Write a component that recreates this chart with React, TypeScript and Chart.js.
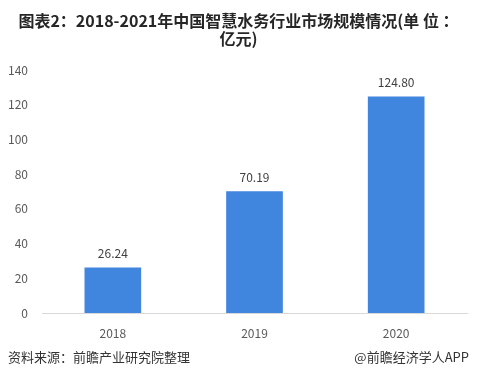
import React, { useEffect, useRef } from "react";
import { Chart, registerables } from "chart.js";

Chart.register(...registerables);

const categories = ["2018", "2019", "2020"];
const values = [26.24, 70.19, 124.8];
const valueLabels = ["26.24", "70.19", "124.80"];
const titleLines = ["图表2：2018-2021年中国智慧水务行业市场规模情况(单 位 ：", "亿元)"];
const sourceText = "资料来源：前瞻产业研究院整理";
const brandText = "@前瞻经济学人APP";

const FONT = "'Noto Sans CJK SC', 'Noto Sans', sans-serif";

const valueLabelPlugin = {
  id: "valueLabels",
  afterDatasetsDraw(chart: any) {
    const ctx = chart.ctx;
    const meta = chart.getDatasetMeta(0);
    ctx.save();
    ctx.fillStyle = "#404040";
    ctx.font = `12px ${FONT}`;
    ctx.textAlign = "center";
    ctx.textBaseline = "middle";
    meta.data.forEach((bar: any, i: number) => {
      ctx.fillText(valueLabels[i], bar.x, bar.y - 14);
    });
    ctx.restore();
  },
};

export default function App() {
  const ref = useRef<HTMLCanvasElement | null>(null);
  useEffect(() => {
    if (!ref.current) return;
    const chart = new Chart(ref.current, {
      type: "bar",
      data: {
        labels: categories,
        datasets: [
          {
            data: values,
            backgroundColor: "#4085DE",
            barPercentage: 0.4,
            categoryPercentage: 1,
          },
        ],
      },
      options: {
        animation: false,
        responsive: false,
        maintainAspectRatio: false,
        layout: { padding: { top: 70, bottom: 38, left: 0, right: 10 } },
        plugins: {
          legend: { display: false },
          tooltip: { enabled: false },
          title: { display: false },
        },
        scales: {
          x: {
            grid: { display: false },
            border: { display: true, color: "#D9D9D9", width: 1 },
            ticks: { color: "#595959", font: { size: 12, family: FONT }, padding: 5 },
            afterFit(scale: any) {
              scale.height = 30;
            },
          },
          y: {
            min: 0,
            max: 140,
            grid: { display: false },
            border: { display: false },
            ticks: {
              stepSize: 20,
              color: "#595959",
              font: { size: 12, family: FONT },
              padding: 6,
            },
            afterFit(scale: any) {
              scale.width = 42;
            },
          },
        },
      },
      plugins: [valueLabelPlugin],
    });
    return () => chart.destroy();
  }, []);

  return (
    <div
      style={{
        position: "absolute",
        left: 0,
        top: 0,
        width: 477,
        height: 381,
        background: "#ffffff",
        fontFamily: FONT,
        overflow: "hidden",
      }}
    >
      <canvas ref={ref} width={477} height={381} style={{ position: "absolute", left: 0, top: 0 }} />
      <div
        style={{
          position: "absolute",
          left: 0,
          top: 11,
          width: 477,
          textAlign: "center",
          fontWeight: "bold",
          fontSize: 16,
          lineHeight: "18px",
          color: "#262626",
          whiteSpace: "nowrap",
        }}
      >
        {titleLines.map((l, i) => (
          <div key={i}>{l}</div>
        ))}
      </div>
      <div
        style={{
          position: "absolute",
          left: 8,
          top: 348,
          fontSize: 13,
          color: "#333333",
          lineHeight: "18px",
        }}
      >
        {sourceText}
      </div>
      <div
        style={{
          position: "absolute",
          right: 8,
          top: 348,
          fontSize: 13,
          color: "#333333",
          lineHeight: "18px",
        }}
      >
        {brandText}
      </div>
    </div>
  );
}
